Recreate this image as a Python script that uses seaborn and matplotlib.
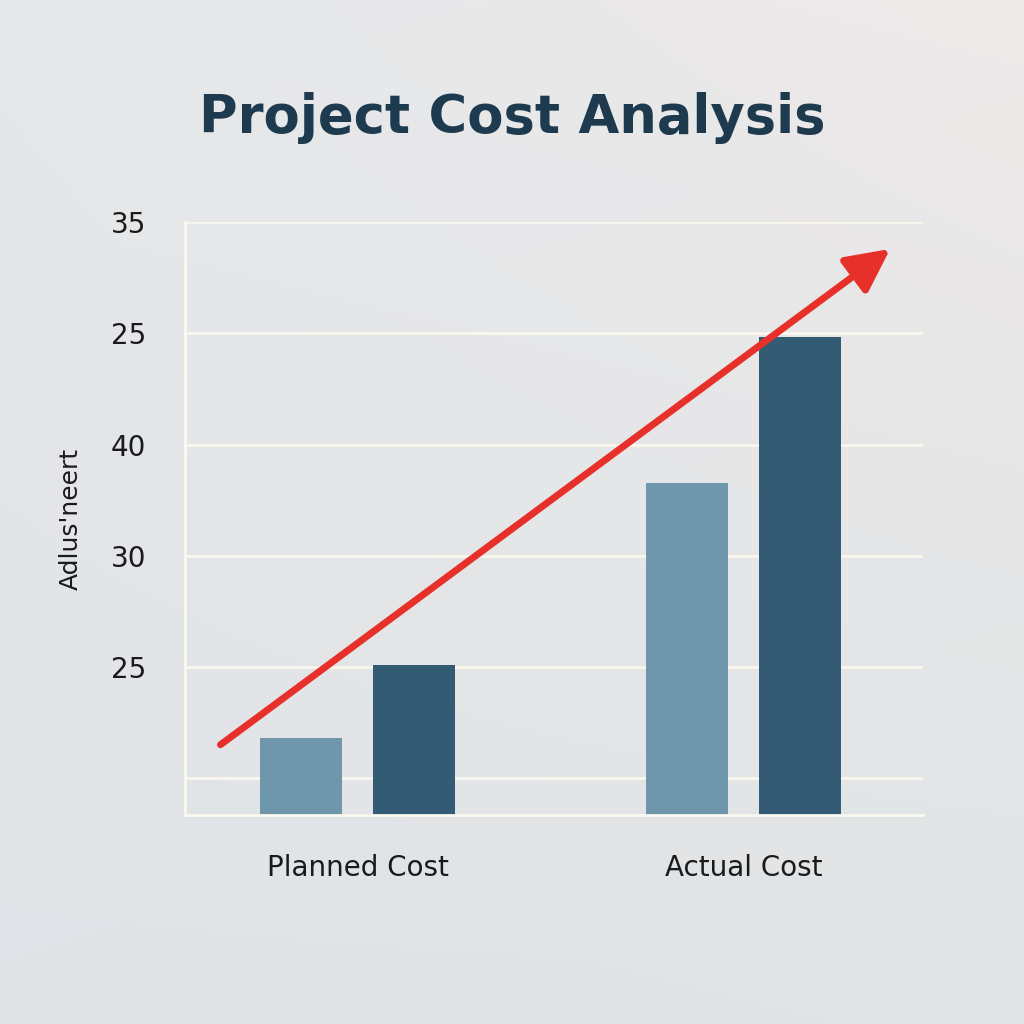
import matplotlib
matplotlib.use("Agg")
import matplotlib.pyplot as plt
import seaborn as sns
import pandas as pd
import numpy as np

categories = ["Planned Cost", "Actual Cost"]
series = ["Planned", "Actual"]
values = {"Planned": [1.36, 3.65], "Actual": [2.02, 4.97]}
tick_pos = [1, 2, 3, 4, 5, 6]
tick_labels = ["", "25", "30", "40", "25", "35"]
trend_start = (-0.355, 1.30)
trend_end = (1.38, 5.76)

rows = [(c, s, values[s][i]) for s in series for i, c in enumerate(categories)]
df = pd.DataFrame(rows, columns=["cat", "series", "val"])

sns.set_theme(style="white")
plt.rcParams['font.family'] = ['DejaVu Sans']
fig = plt.figure(figsize=(10.24, 10.24), dpi=100)
bg = fig.add_axes([0, 0, 1, 1])
grad = np.linspace(0, 1, 256)
X, Y = np.meshgrid(grad, grad)
img = np.zeros((256, 256, 3))
base = np.array([0.90, 0.91, 0.92])
img[:] = base
img[..., 0] += 0.03 * X * (1 - Y) - 0.02 * Y
img[..., 1] += 0.005 * X - 0.02 * Y
img[..., 2] += -0.005 * X - 0.015 * Y
bg.imshow(np.clip(img, 0, 1), extent=[0, 1, 0, 1], aspect="auto", origin="upper")
bg.axis("off")

ax = fig.add_axes([0.181, 0.204, 0.72, 0.579])
ax.set_facecolor("none")
sns.barplot(data=df, x="cat", y="val", hue="series", order=categories,
            palette={"Planned": "#6f97ab", "Actual": "#335c74"},
            width=0.585, gap=0.28, ax=ax, legend=False, saturation=1, linewidth=0)
ax.set_xlim(-0.446, 1.464)
ax.set_ylim(0.667, 6.0)
ax.set_yticks(tick_pos)
ax.set_yticklabels(tick_labels, fontsize=20, color="#1a1a1a")
ax.tick_params(axis="y", length=0, pad=28)
ax.tick_params(axis="x", length=0, pad=28, labelsize=20, labelcolor="#1a1a1a")
ax.grid(axis="y", color="#fbf8ee", linewidth=1.8)
ax.set_axisbelow(True)
for s in ["top", "right"]:
    ax.spines[s].set_visible(False)
for s in ["left", "bottom"]:
    ax.spines[s].set_color("#fbf8ee")
    ax.spines[s].set_linewidth(2)
ax.set_xlabel("")
ax.set_ylabel("Adlus'neert", fontsize=18, color="#1a1a1a", labelpad=20)
ax.annotate("", xy=trend_end, xytext=trend_start,
            arrowprops=dict(arrowstyle="-|>,head_length=2.2,head_width=1.1",
                            color="#e8302a", lw=5, shrinkA=0, shrinkB=0),
            annotation_clip=False)
fig.text(0.5, 0.885, "Project Cost Analysis", ha="center", va="center",
         fontsize=38, fontweight="bold", color="#1d3a4f")
fig.savefig("out.png", dpi=100)
